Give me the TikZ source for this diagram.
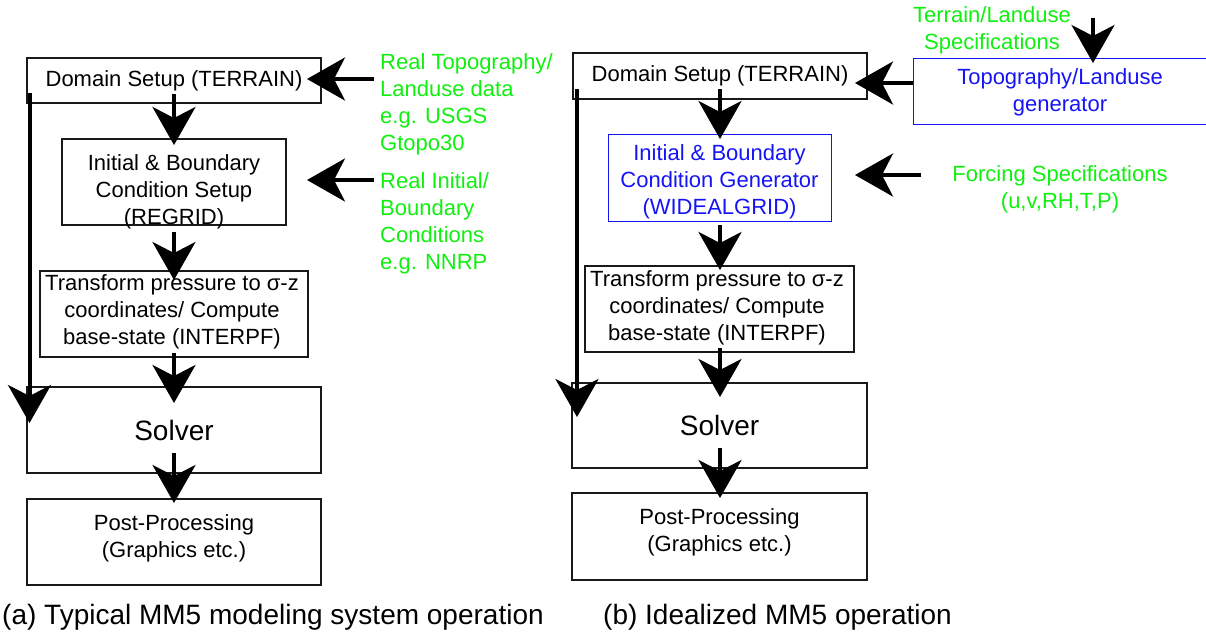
\documentclass[tikz,border=0pt]{standalone}
\usepackage{fontspec}
\setmainfont{Liberation Sans}
\usetikzlibrary{arrows.meta,calc}
\definecolor{specgreen}{RGB}{15,240,15}
\definecolor{genblue}{RGB}{20,20,245}
\begin{document}
\begin{tikzpicture}[x=1pt,y=-1pt,
  stepbox/.style={draw=black!90, line width=1.3pt, inner sep=0pt, outer sep=0pt},
  genbox/.style={stepbox, draw=genblue, line width=1pt},
  lbl/.style={align=center, inner sep=0pt, font=\fontsize{22}{27}\selectfont},
  spec/.style={lbl, text=specgreen},
  big/.style={font=\fontsize{28}{32}\selectfont},
  flow/.style={line width=4pt, -{Stealth[length=38pt,width=43pt,inset=11pt]}}
]
\useasboundingbox (0,0) rectangle (1206,641);

% ---------- (a) typical operation ----------
\node[stepbox, lbl, minimum width=294pt, minimum height=45pt] (domA) at (174,80.5) {Domain Setup (TERRAIN)};
\node[stepbox, minimum width=224pt, minimum height=86pt] (ibA) at (174,182) {};
\node[lbl] (ibAt) at (174,192) {Initial \& Boundary\\Condition Setup\\(REGRID)};
\node[stepbox, minimum width=268pt, minimum height=86pt] (trA) at (174,314) {};
\node[lbl] (trAt) at (172,312) {Transform pressure to σ-z\\coordinates/ Compute\\base-state (INTERPF)};
\node[stepbox, big, minimum width=294pt, minimum height=86pt] (solA) at (174,430) {Solver};
\node[stepbox, minimum width=294pt, minimum height=86pt] (postA) at (174,542) {};
\node[lbl] (postAt) at (174,538) {Post-Processing\\(Graphics etc.)};

\node[spec, anchor=west, align=left] (srcA1) at (380,104) {Real Topography/\\Landuse data\\e.g. USGS\\Gtopo30};
\node[spec, anchor=west, align=left] (srcA2) at (380,223) {Real Initial/\\Boundary\\Conditions\\e.g. NNRP};

\coordinate (inA1) at (374,79);
\coordinate (inA2) at (374,180);

\node[big, anchor=base west, inner sep=0pt] (capA) at (2,624) {(a) Typical MM5 modeling system operation};

% ---------- (b) idealized operation ----------
\node[stepbox, lbl, minimum width=294pt, minimum height=46pt] (domB) at (720,76) {Domain Setup (TERRAIN)};
\node[genbox, minimum width=223pt, minimum height=87pt] (ibB) at (719.5,177.5) {};
\node[lbl, text=genblue] (ibBt) at (719.5,182) {Initial \& Boundary\\Condition Generator\\(WIDEALGRID)};
\node[stepbox, minimum width=269pt, minimum height=86pt] (trB) at (719.5,309) {};
\node[lbl] (trBt) at (717,308) {Transform pressure to σ-z\\coordinates/ Compute\\base-state (INTERPF)};
\node[stepbox, big, minimum width=295pt, minimum height=85pt] (solB) at (719.5,425.5) {Solver};
\node[stepbox, minimum width=295pt, minimum height=87pt] (postB) at (719.5,536.5) {};
\node[lbl] (postBt) at (719.5,532) {Post-Processing\\(Graphics etc.)};

\node[genbox, minimum width=295pt, minimum height=66pt] (topo) at (1060.5,91) {};
\node[lbl, text=genblue] (topot) at (1060,92.5) {Topography/Landuse\\generator};
\node[spec] (terr) at (992,30) {Terrain/Landuse\\Specifications};
\node[spec] (forc) at (1060,189) {Forcing Specifications\\(u,v,RH,T,P)};

\coordinate (inB1) at (1093,18);
\coordinate (inB2) at (921,175);

\node[big, anchor=base west, inner sep=0pt] (capB) at (603,624) {(b) Idealized MM5 operation};

% ---------- flow arrows ----------
\draw[flow] ($(domA.south)+(0,-9)$) -- ($(ibA.north)+(0,6)$);
\draw[flow] ($(ibA.south)+(0,7)$) -- ($(trA.north)+(0,9)$);
\draw[flow] ($(trA.south)+(0,-4)$) -- ($(solA.north)+(0,16)$);
\draw[flow] ($(solA.south)+(0,-20)$) -- ($(postA.north)+(0,4)$);
\draw[flow] ($(domA.south west)+(2.5,-10)$) -- ($(solA.north west)+(2.5,36)$);
\draw[flow] (inA1) -- ($(inA1 -| domA.east)+(-14,0)$);
\draw[flow] (inA2) -- ($(inA2 -| ibA.east)+(21,0)$);

\draw[flow] ($(domB.south)+(0,-10)$) -- ($(domB.south |- ibB.north)+(0,5)$);
\draw[flow] ($(domB.south |- ibB.south)+(0,4)$) -- ($(domB.south |- trB.north)+(0,4)$);
\draw[flow] ($(domB.south |- trB.south)+(0,-4)$) -- ($(domB.south |- solB.north)+(0,14)$);
\draw[flow] ($(domB.south |- solB.south)+(0,-20)$) -- ($(domB.south |- postB.north)+(0,5)$);
\draw[flow] ($(domB.south west)+(4,-10)$) -- ($(solB.north west)+(5,34)$);
\draw[flow] ($(topo.west)+(0,-8)$) -- ($(topo.west -| domB.east)+(-12,-8)$);
\draw[flow] (inB2) -- ($(inB2 -| domB.east)+(-12,0)$);
\draw[flow] (inB1) -- ($(inB1 |- topo.north)+(0,5)$);
\end{tikzpicture}
\end{document}
